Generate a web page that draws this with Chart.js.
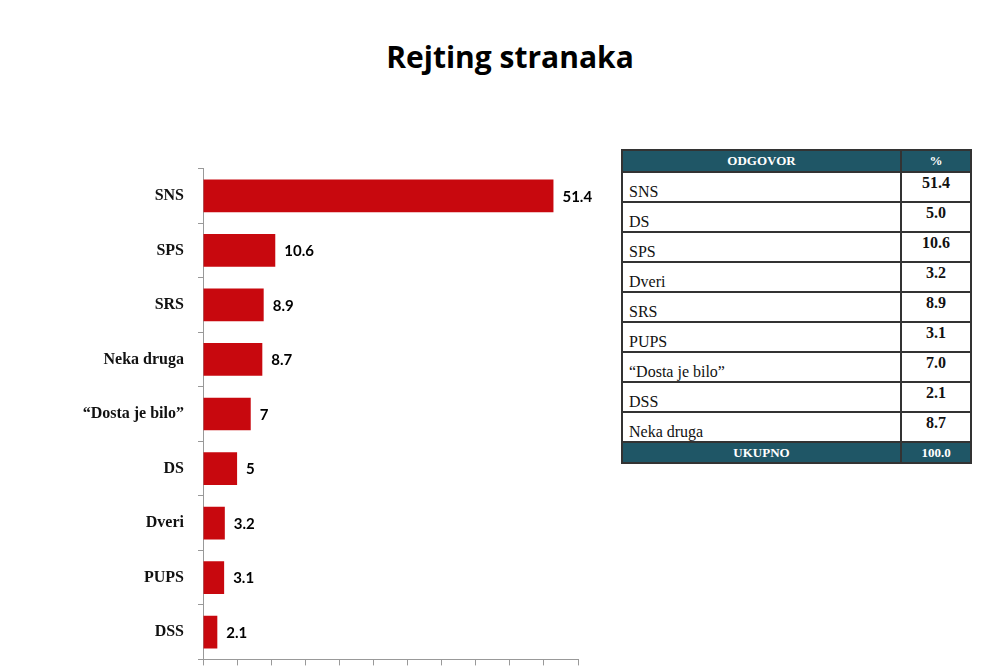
<!DOCTYPE html>
<html lang="en">
  <head>
    <meta charset="UTF-8" />
    <title>Rejting stranaka</title>
    <script src="https://cdn.jsdelivr.net/npm/chart.js"></script>
    <style>
      body { margin: 0; width: 1000px; height: 668px; background: #fff; position: relative; overflow: hidden; }
      h1 {
        position: absolute; top: 36px; left: 0; width: 1020px; margin: 0;
        text-align: center; font: bold 30px "Open Sans", sans-serif; color: #000;
      }
      #chartBox { position: absolute; left: 0; top: 145px; width: 600px; height: 538px; }
      table {
        position: absolute; left: 621px; top: 149px; width: 351px;
        border-collapse: collapse; font-family: "Liberation Serif", serif; color: #111;
      }
      td, th { border: 2px solid #333; padding: 0 6px; }
      th { background: #1f5666; color: #fff; font-size: 13px; height: 20px; font-weight: bold; }
      td { height: 27px; font-size: 16px; vertical-align: bottom; padding-bottom: 0; line-height: 18px; }
      td.v { text-align: center; font-weight: bold; vertical-align: top; padding-top: 1px; width: 56px; }
      tr.foot td { background: #1f5666; color: #fff; font-size: 13px; font-weight: bold; height: 19px; text-align: center; vertical-align: middle; }
    </style>
  </head>
  <body>
    <h1>Rejting stranaka</h1>
    <div id="chartBox"><canvas id="barChart"></canvas></div>
    <table id="tbl">
      <tr><th>ODGOVOR</th><th>%</th></tr>
    </table>

    <script>
      // chart data
      var parties = ["SNS", "SPS", "SRS", "Neka druga", "\u201cDosta je bilo\u201d", "DS", "Dveri", "PUPS", "DSS"];
      var rating = [51.4, 10.6, 8.9, 8.7, 7, 5, 3.2, 3.1, 2.1];

      // table data
      var tableNames = ["SNS", "DS", "SPS", "Dveri", "SRS", "PUPS", "\u201cDosta je bilo\u201d", "DSS", "Neka druga"];
      var tableValues = ["51.4", "5.0", "10.6", "3.2", "8.9", "3.1", "7.0", "2.1", "8.7"];
      var totalLabel = "UKUPNO";
      var totalValue = "100.0";

      var tbl = document.getElementById("tbl");
      tableNames.forEach(function (name, i) {
        var tr = document.createElement("tr");
        tr.innerHTML = "<td>" + name + "</td><td class='v'>" + tableValues[i] + "</td>";
        tbl.appendChild(tr);
      });
      var foot = document.createElement("tr");
      foot.className = "foot";
      foot.innerHTML = "<td>" + totalLabel + "</td><td>" + totalValue + "</td>";
      tbl.appendChild(foot);

      // value labels next to bars
      var valueLabels = {
        id: "valueLabels",
        afterDatasetsDraw: function (chart) {
          var ctx = chart.ctx;
          var meta = chart.getDatasetMeta(0);
          ctx.save();
          ctx.font = "bold 15px Lato, sans-serif";
          ctx.fillStyle = "#000";
          ctx.textBaseline = "middle";
          meta.data.forEach(function (bar, i) {
            ctx.fillText(String(rating[i]), bar.x + 9, bar.y + 1);
          });
          ctx.restore();
        },
      };

      new Chart(document.getElementById("barChart"), {
        type: "bar",
        data: {
          labels: parties,
          datasets: [{
            data: rating,
            backgroundColor: "#c8080e",
            borderWidth: 0,
            barPercentage: 0.6,
            categoryPercentage: 1,
          }],
        },
        options: {
          indexAxis: "y",
          responsive: true,
          maintainAspectRatio: false,
          animation: false,
          layout: { padding: { top: 10, right: 22, bottom: 0, left: 0 } },
          plugins: { legend: { display: false }, tooltip: { enabled: false } },
          scales: {
            x: {
              min: 0, max: 55,
              ticks: { stepSize: 5, display: false },
              grid: { drawOnChartArea: false, tickLength: 6, color: "#999" },
              border: { color: "#999" },
              afterFit: function (s) { s.height = 9; },
            },
            y: {
              ticks: { font: { family: "Liberation Serif", weight: "bold", size: 16 }, color: "#111", padding: 14 },
              grid: { drawOnChartArea: false, tickLength: 5, color: "#999", offset: true },
              border: { color: "#999" },
              afterFit: function (s) { s.width = 203; },
            },
          },
        },
        plugins: [valueLabels],
      });
    </script>
  </body>
</html>
